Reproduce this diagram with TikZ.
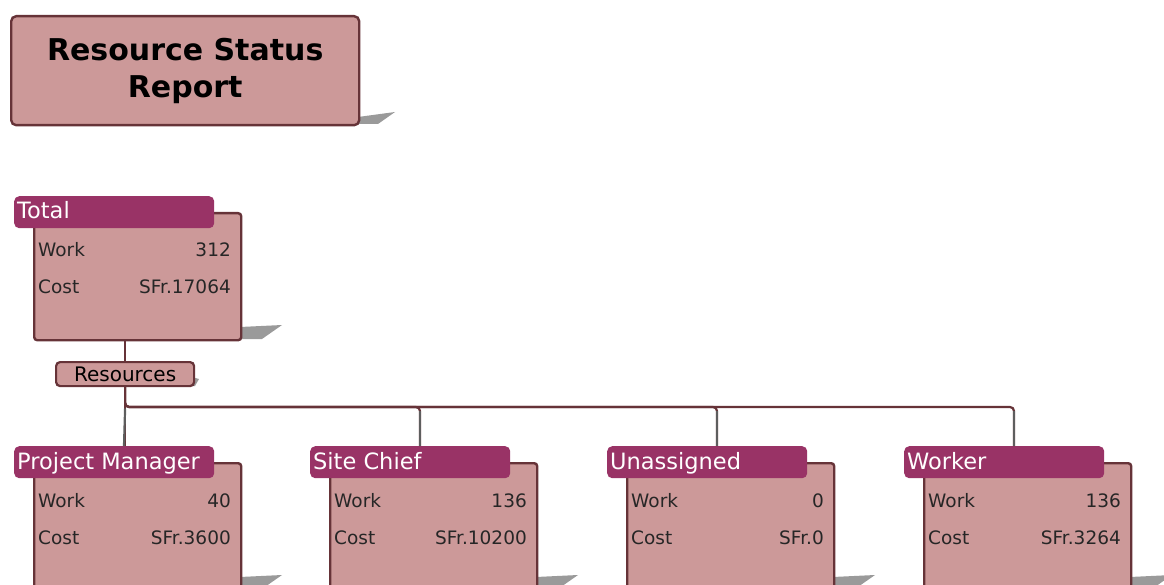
\documentclass[tikz,border=0pt]{standalone}
\usepackage{fontspec}
\setmainfont{DejaVu Sans}
\usetikzlibrary{calc}
\definecolor{bodyfill}{HTML}{CC9999}
\definecolor{headfill}{HTML}{993366}
\definecolor{edge}{HTML}{663338}
\definecolor{shade}{HTML}{9A9A9A}
\definecolor{dropline}{HTML}{5E5E5E}
\tikzset{
  bodybox/.style={draw=edge, line width=2.4pt, fill=bodyfill, rounded corners=3pt,
    inner sep=0pt, anchor=north west},
  headbox/.style={fill=headfill, rounded corners=5pt, inner sep=0pt, anchor=north west,
    minimum width=200pt, minimum height=32pt},
  headtext/.style={text=white, font=\fontsize{22.5}{25}\selectfont, anchor=base west, inner sep=0pt},
  rowtext/.style={text=black!85, font=\fontsize{18.5}{20}\selectfont, inner sep=0pt},
  tree/.style={draw=edge, line width=2.2pt, rounded corners=4pt},
  drop/.style={draw=dropline, line width=2.2pt},
  shadowfill/.style={fill=shade}
}
% one resource card: name, left x of header, top y of header, title, work, cost
\newcommand\rescard[6]{%
  \pgfmathsetmacro\bx{#2+19}\pgfmathsetmacro\by{#3+16}%
  \pgfmathsetmacro\sx{#2+226}\pgfmathsetmacro\sy{#3+143}%
  \fill[shadowfill] (\sx,\sy-12) -- (\sx+42,\sy-14) -- (\sx+22,\sy) -- (\sx,\sy) -- cycle;
  \node[bodybox, minimum width=207pt, minimum height=127pt] (#1-b) at (\bx,\by) {};
  \node[headbox] (#1-h) at (#2,#3) {};
  \node[headtext] (#1-t) at (#2+3,#3+23) {#4};
  \node[rowtext, anchor=base west] (#1-wl) at (\bx+5,\by+45) {Work};
  \node[rowtext, anchor=base east] (#1-wv) at (\bx+198,\by+45) {#5};
  \node[rowtext, anchor=base west] (#1-cl) at (\bx+5,\by+82) {Cost};
  \node[rowtext, anchor=base east] (#1-cv) at (\bx+198,\by+82) {#6};
  \coordinate (#1-in) at (#2+110,#3);
}
\begin{document}
\begin{tikzpicture}[x=1pt,y=-1pt]
  \path[use as bounding box] (0,0) rectangle (1164,585);
  \clip (0,0) rectangle (1164,585);

  % title
  \fill[shadowfill] (358,117) -- (395,112) -- (378,124) -- (358,124) -- cycle;
  \node[draw=edge, line width=2.4pt, fill=bodyfill, rounded corners=5pt, anchor=north west,
        minimum width=348pt, minimum height=109pt, inner sep=0pt,
        align=center, font=\bfseries\fontsize{30}{37}\selectfont]
        (title) at (10,15) {Resource Status\\Report};

  % cards
  \rescard{tot}{14}{196}{Total}{312}{SFr.17064}
  \rescard{pm}{14}{446}{Project Manager}{40}{SFr.3600}
  \rescard{sc}{310}{446}{Site Chief}{136}{SFr.10200}
  \rescard{un}{607}{446}{Unassigned}{0}{SFr.0}
  \rescard{wk}{904}{446}{Worker}{136}{SFr.3264}

  % grouping label
  \fill[shadowfill] (192,377) -- (199,379) -- (195,386) -- (192,386) -- cycle;
  \node[draw=edge, line width=2.2pt, fill=bodyfill, rounded corners=4pt, anchor=north west,
        minimum width=138pt, minimum height=24pt, inner sep=0pt,
        font=\fontsize{20}{22}\selectfont] (res) at (55,361) {Resources};

  % tree connectors
  \coordinate (bus) at (0,407);
  \draw[tree] (res.north |- tot-b.south) -- (res.north);
  \draw[tree] (res.south) -- (res.south |- pm-in);
  \foreach \c in {sc,un,wk}{
    \draw[tree] (res.south) -- (res.south |- bus) -| (\c-in);
  }
  \draw[drop] ($(res.south |- bus)+(0,1.5)$) -- (pm-in);
  \foreach \c in {sc,un,wk}{
    \draw[drop] ($(\c-in |- bus)+(0,4)$) -- (\c-in);
  }
\end{tikzpicture}
\end{document}
